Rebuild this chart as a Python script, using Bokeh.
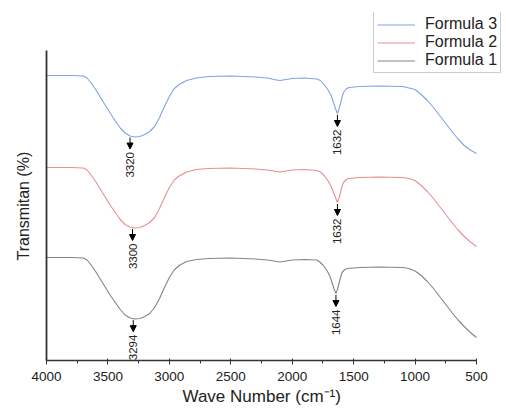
import numpy as np
from bokeh.plotting import figure
from bokeh.models import (Range1d, FixedTicker, Arrow, NormalHead, Legend,
                          LegendItem, ColumnDataSource, Title)
from bokeh.embed import file_html
from bokeh.resources import INLINE
from bokeh.core.properties import value

# ---- data (transmittance, arbitrary offset units) ----
wn_f3 = [4000, 3800, 3700, 3670, 3640, 3600, 3560, 3520, 3480, 3440,
         3400, 3360, 3320, 3280, 3240, 3200, 3160, 3120, 3080, 3040,
         3000, 2960, 2920, 2860, 2780, 2680, 2500, 2300, 2200, 2150,
         2100, 2050, 2000, 1900, 1800, 1770, 1740, 1705, 1680, 1664,
         1648, 1632, 1620, 1607, 1595, 1583, 1560, 1540, 1450, 1300,
         1100, 1050, 1000, 950, 900, 850, 800, 750, 700, 650,
         600, 550, 500]
t_f3 = [285, 285, 284.5, 282.5, 278, 271, 263, 255, 247, 239.5,
        232.5, 227.5, 224.5, 223.5, 224, 226, 229, 234, 243, 254,
        264, 272, 276, 280, 282.5, 284, 284.5, 283.5, 282.5, 281,
        280, 281, 282, 282.5, 281.5, 280, 276, 270, 264, 258,
        252, 247, 251, 257, 263, 268, 271.5, 273, 274, 274.5,
        274, 272.5, 271, 266, 260, 253, 245, 237, 229, 221.5,
        215, 210.5, 207]

wn_f2 = wn_f3
t_f2 = [193, 193, 192.5, 190.5, 186, 179, 171, 163, 155, 148,
        141, 136, 133.5, 132.5, 133, 135, 138, 143, 152, 163,
        173, 180.5, 184.5, 188.5, 191, 192, 192.5, 191.5, 190.5, 189.5,
        188.5, 189.5, 190.5, 191, 190, 188.5, 185, 179, 173, 168,
        163, 158, 162, 168, 174, 178, 181, 182, 183, 183.5,
        183, 182, 180, 175, 169, 162, 154, 146, 138, 130.5,
        124, 118.5, 114]

wn_f1 = [4000, 3800, 3700, 3670, 3640, 3600, 3560, 3520, 3480, 3440,
         3400, 3360, 3320, 3280, 3240, 3200, 3160, 3120, 3080, 3040,
         3000, 2960, 2920, 2860, 2780, 2680, 2500, 2300, 2200, 2150,
         2100, 2050, 2000, 1900, 1800, 1780, 1750, 1717, 1692, 1676,
         1660, 1644, 1632, 1619, 1607, 1595, 1572, 1552, 1450, 1300,
         1100, 1050, 1000, 950, 900, 850, 800, 750, 700, 650,
         600, 550, 500]
t_f1 = [103, 103, 102.5, 100.5, 96, 89, 81, 73, 65, 58,
        51, 45.5, 42.5, 41.5, 42, 44, 47, 53, 62, 73,
        83, 90.5, 95, 99, 101, 102, 102.5, 101.5, 100.5, 99.5,
        98.5, 99.5, 100.5, 101, 100.5, 99, 95.5, 90, 84, 78,
        72, 67, 71, 77, 83, 88, 91, 92, 93, 93.5,
        93, 92, 89.5, 85, 79, 72, 64, 56, 48, 40.5,
        34, 28, 23]

peaks_f3 = [3320, 1632]
peaks_f2 = [3300, 1632]
peaks_f1 = [3294, 1644]

series_names = ["Formula 3", "Formula 2", "Formula 1"]
x_ticks = [4000, 3500, 3000, 2500, 2000, 1500, 1000, 500]
x_minor = [3750, 3250, 2750, 2250, 1750, 1250, 750]
x_title = "Wave Number (cm⁻¹)"
y_title = "Transmitan (%)"
colors = ["#7fa3e3", "#e88f8f", "#858585"]

FONT = "Liberation Sans"

# ---- layout (pixels) ----
W, H = 506, 409
AX_LEFT, AX_RIGHT = 46, 476      # where 4000 and 500 sit
AX_BOTTOM, AX_TOP = 360, 50      # where y=0 and y=310 sit
FRAME_TOP = 12
x_lo, x_hi = 4000, 500
y_lo, y_hi = 0, 310
xs = (x_lo - x_hi) / (AX_RIGHT - AX_LEFT)
x_end = x_hi - (W - AX_RIGHT) * xs
ys_ = (y_hi - y_lo) / (AX_BOTTOM - AX_TOP)
y_end = y_hi + (AX_TOP - FRAME_TOP) * ys_

p = figure(width=W, height=H, output_backend="svg", toolbar_location=None,
           x_range=Range1d(x_lo, x_end), y_range=Range1d(y_lo, y_end),
           min_border_left=AX_LEFT, min_border_right=0, min_border_top=FRAME_TOP,
           min_border_bottom=H - AX_BOTTOM)
p.outline_line_color = None
p.xgrid.visible = False
p.ygrid.visible = False
p.background_fill_color = "white"
p.border_fill_color = "white"

renderers = []
for wn, t, c in zip([wn_f3, wn_f2, wn_f1], [t_f3, t_f2, t_f1], colors):
    r = p.line(wn, t, line_color=c, line_width=1.1)
    renderers.append(r)

# peak arrows and labels
ax, ays, aye, tx, ty, tl = [], [], [], [], [], []
for wn, t, peaks in zip([wn_f3, wn_f2, wn_f1], [t_f3, t_f2, t_f1],
                        [peaks_f3, peaks_f2, peaks_f1]):
    w_arr = np.array(wn)[::-1]
    t_arr = np.array(t)[::-1]
    for pk in peaks:
        yv = float(np.interp(pk, w_arr, t_arr))
        ax.append(pk)
        ays.append(yv - 1.5)
        aye.append(yv - 13)
        tx.append(pk)
        ty.append(yv - 16)
        tl.append(str(pk))

asrc = ColumnDataSource(dict(x=ax, ys=ays, ye=aye))
p.add_layout(Arrow(x_start="x", y_start="ys", x_end="x", y_end="ye", source=asrc,
                   line_color="black", line_width=1,
                   end=NormalHead(size=6, fill_color="black", line_color="black")))
tsrc = ColumnDataSource(dict(x=tx, y=ty, label=tl))
p.text(x="x", y="y", text="label", source=tsrc, angle=np.pi / 2,
       text_align="right", text_baseline="middle",
       text_font=value(FONT), text_font_size=value("11.5px"), text_color="#222222")

# axes
xa = p.xaxis[0]
xa.bounds = (x_hi, x_lo)
xa.ticker = FixedTicker(ticks=x_ticks, minor_ticks=x_minor)
xa.axis_line_width = 1.5
xa.axis_line_color = "#333333"
xa.major_tick_out = 4
xa.major_tick_in = 2
xa.minor_tick_out = 3
xa.minor_tick_in = 0
xa.major_tick_line_color = "#333333"
xa.minor_tick_line_color = "#333333"
xa.major_label_text_font = FONT
xa.major_label_text_font_size = "13.5px"
xa.major_label_text_color = "#222222"
xa.major_label_standoff = 7

ya = p.yaxis[0]
ya.bounds = (y_lo, y_hi)
ya.ticker = FixedTicker(ticks=[])
ya.major_tick_line_color = None
ya.minor_tick_line_color = None
ya.major_label_text_font_size = "0px"
ya.axis_line_width = 1.8
ya.axis_line_color = "#333333"

# axis titles, positioned along the axis extent
p.add_layout(Title(text=x_title, align="left", offset=136, vertical_align="bottom",
                   standoff=2, text_font=FONT, text_font_size="17px",
                   text_font_style="normal", text_color="#222222"), "below")
p.add_layout(Title(text=y_title, align="left", offset=100, vertical_align="top",
                   standoff=25, text_font=FONT, text_font_size="16px",
                   text_font_style="normal", text_color="#222222"), "left")

legend = Legend(items=[LegendItem(label=n, renderers=[r])
                       for n, r in zip(series_names, renderers)],
                location=(327, 287), padding=3, spacing=0,
                glyph_width=38, glyph_height=17, label_height=17,
                label_standoff=10, label_text_font=FONT,
                label_text_font_size="16px", label_text_color="#222222",
                border_line_color="#999999", border_line_width=1,
                background_fill_color="white", background_fill_alpha=1)
p.add_layout(legend, "center")

open("out.html", "w").write(file_html(p, INLINE))
